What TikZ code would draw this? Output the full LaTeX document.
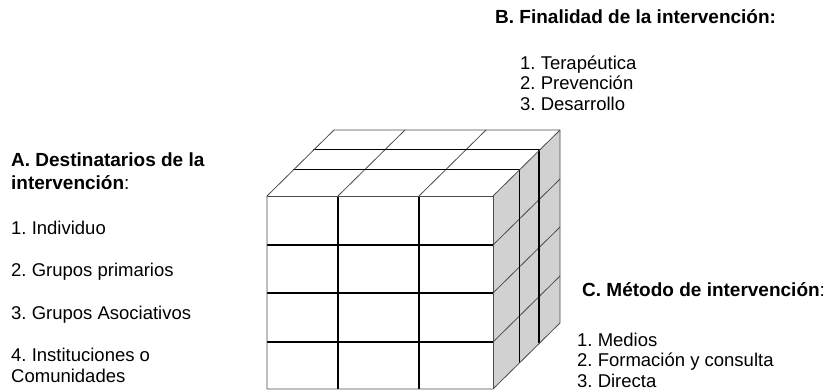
\documentclass[tikz,border=0pt]{standalone}
\usepackage{fontspec}
\setmainfont{Liberation Sans}
\usetikzlibrary{positioning}

\begin{document}
\frenchspacing
\begin{tikzpicture}[
    x=1pt, y=-1pt,
    node distance=20.5pt,
    edge/.style={draw=black!70, line width=0.8pt},
    layer/.style={draw=black, line width=1.5pt},
    item/.style={font=\fontsize{18.5}{21}\selectfont, align=left, inner sep=0pt, anchor=base west},
    title/.style={item, font=\fontsize{19}{23}\selectfont\bfseries}
  ]
    \useasboundingbox (0,0) rectangle (825,391);

    % cube corners
    \coordinate (ftl) at (267,196);
    \coordinate (ftr) at (493,196);
    \coordinate (fbl) at (267,389);
    \coordinate (fbr) at (493,389);
    \coordinate (btl) at (334,130);
    \coordinate (btr) at (560,130);
    \coordinate (bbr) at (560,323);

    % faces
    \fill[white] (ftl) rectangle (fbr);
    \fill[white] (ftl) -- (btl) -- (btr) -- (ftr) -- cycle;
    \fill[black!18] (ftr) -- (btr) -- (bbr) -- (fbr) -- cycle;

    % thin lines on top and side
    \draw[edge] (338,196) -- (405,130);
    \draw[edge] (419,196) -- (486,130);
    \draw[edge] (493,245) -- (560,179);
    \draw[edge] (493,293) -- (560,227);
    \draw[edge] (493,342) -- (560,276);

    % front grid
    \draw[layer] (338,196) -- (338,389);
    \draw[layer] (419,196) -- (419,389);
    \draw[layer] (267,245) -- (493,245);
    \draw[layer] (267,293) -- (493,293);
    \draw[layer] (267,342) -- (493,342);

    % layers in depth
    \draw[layer] (293,169.5) -- (519.5,169.5) -- (519.5,362.5);
    \draw[layer] (313,149.5) -- (539,149.5) -- (539,343);

    % outline
    \draw[edge, line join=round] (ftl) -- (btl) -- (btr) -- (bbr) -- (fbr) -- (fbl) -- cycle;
    \draw[edge] (ftl) -- (ftr) -- (fbr);
    \draw[edge] (ftr) -- (btr);

    % A. destinatarios
    \node[title] (titA) at (11,189) {A. Destinatarios de la\\intervención\textmd{:}};
    \node[item] (a1) at (11,234) {1. Individuo};
    \node[item] (a2) at (11,276) {2. Grupos primarios};
    \node[item] (a3) at (11,319) {3. Grupos Asociativos};
    \node[item] (a4) at (11,382) {4. Instituciones o\\Comunidades};

    % B. finalidad
    \node[title] (titB) at (495,23) {B. Finalidad de la intervención:};
    \node[item] (b1) at (520,69) {1. Terapéutica};
    \node[item, below=of b1.base west, anchor=base west] (b2) {2. Prevención};
    \node[item, below=of b2.base west, anchor=base west] (b3) {3. Desarrollo};

    % C. metodo
    \node[title] (titC) at (582,296) {C. Método de intervención\textmd{:}};
    \node[item] (c1) at (577,346) {1. Medios};
    \node[item, below=of c1.base west, anchor=base west] (c2) {2. Formación y consulta};
    \node[item, below=of c2.base west, anchor=base west] (c3) {3. Directa};
  \end{tikzpicture}
\end{document}
